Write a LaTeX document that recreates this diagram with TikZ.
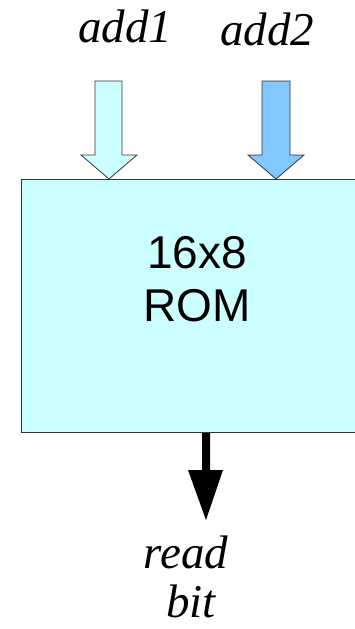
\documentclass[tikz,border=0pt]{standalone}
\usepackage{fontspec}
\setmainfont{Liberation Serif}
\setsansfont{Liberation Sans}
\definecolor{romfill}{HTML}{CCFFFF}
\definecolor{addlight}{HTML}{CCFFFF}
\definecolor{adddark}{HTML}{80C8FF}
\definecolor{edge}{HTML}{333333}
\begin{document}
\begin{tikzpicture}[x=1pt,y=-1pt,
  blockarrow/.style={draw=edge,line width=0.8pt,line join=miter},
  sig/.style={font=\fontsize{47}{54}\selectfont\itshape,inner sep=0pt,anchor=base},
  romtext/.style={font=\sffamily\fontsize{46}{53}\selectfont,align=center,inner sep=0pt}]
  \useasboundingbox (0,0) rectangle (355,629);
  \clip (0,0) rectangle (355,629);
  % ROM block, running off the right edge
  \fill[romfill] (21,179) rectangle (362,432);
  \draw[edge,line width=1pt] (21,179) rectangle (362,432);
  \node[romtext] (rom) at (197,279) {16x8\\ROM};
  \coordinate (romtop1) at (109,179);
  \coordinate (romtop2) at (276,179);
  \coordinate (rombot) at (206,432);
  % address inputs
  \node[sig] (a1) at (125,42) {add1};
  \node[sig] (a2) at (267,45) {add2};
  \filldraw[blockarrow,fill=addlight] (95,81) -- (122,81) -- (122,155) -- (137,155)
     -- (romtop1) -- (81,155) -- (95,155) -- cycle;
  \filldraw[blockarrow,fill=adddark] (262,81) -- (290,81) -- (290,155) -- (304,155)
     -- (romtop2) -- (248,155) -- (262,155) -- cycle;
  % output
  \fill[black] (202,433) -- (210,433) -- (210,470) -- (223,470) -- (206,520)
     -- (188,470) -- (202,470) -- cycle;
  \coordinate (outtip) at (206,520);
  \node[sig] (rd) at (186,568) {read};
  \node[sig] (bt) at (191,617) {bit};
\end{tikzpicture}
\end{document}
